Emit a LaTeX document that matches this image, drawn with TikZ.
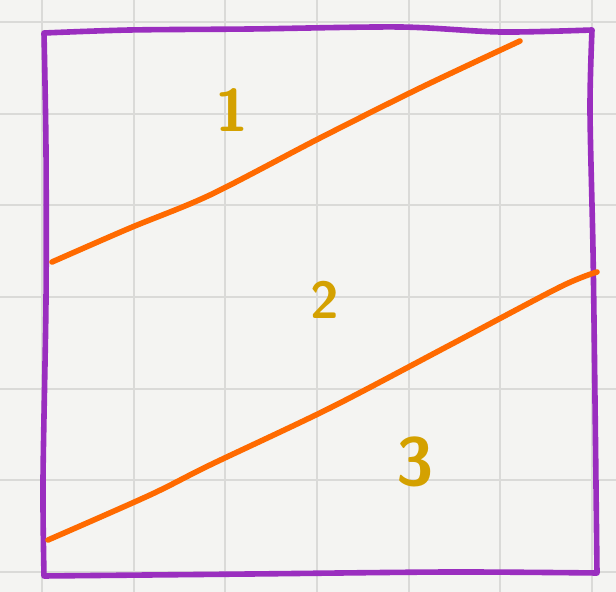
\documentclass[tikz,border=0pt]{standalone}
\usepackage{tikz}
\definecolor{PaperGray}{HTML}{F4F4F2}
\definecolor{GridGray}{HTML}{DADAD8}
\definecolor{BoxPurple}{HTML}{9A2EBF}
\definecolor{CutOrange}{HTML}{FF6A00}
\definecolor{LabelGold}{HTML}{D4A100}

\begin{document}
\begin{tikzpicture}[x=0.5pt,y=-0.5pt,line cap=round,line join=round]
  \fill[PaperGray] (0,0) rectangle (616,592); \useasboundingbox (0,0) rectangle (616,592);
  \foreach \g in {42,133.7,225.3,317,408.7,500.3,592} \draw[GridGray,line width=1pt] (\g,0) -- (\g,592);
  \foreach \g in {22,113.7,205.3,297,388.7,480.3,572} \draw[GridGray,line width=1pt] (0,\g) -- (616,\g);
  \draw[BoxPurple,line width=2.8pt] plot[smooth] coordinates {(44,33) (130,30) (250,29) (400,27) (500,32) (592,30)}
    plot[smooth] coordinates {(592,30) (590,110) (593,250) (595,400) (597,573)}
    plot[smooth] coordinates {(597,573) (450,572) (250,574) (44,576)}
    plot[smooth] coordinates {(44,576) (43,480) (46,300) (46,150) (44,33)};
  \draw[CutOrange,line width=2.8pt] plot[smooth] coordinates {(52,262) (130,228) (210,195) (320,138) (420,88) (520,41)};
  \draw[CutOrange,line width=2.8pt] plot[smooth] coordinates {(48,540) (150,495) (210,465) (330,408) (450,345) (560,287) (597,272)};
  \node[LabelGold,font=\sffamily\bfseries\fontsize{30}{30}\selectfont] (part1) at (232,110) {1};
  \node[LabelGold,font=\sffamily\bfseries\fontsize{26}{26}\selectfont] (part2) at (325,300) {2};
  \node[LabelGold,font=\sffamily\bfseries\fontsize{34}{34}\selectfont] (part3) at (415,462) {3};
\end{tikzpicture}
\end{document}
